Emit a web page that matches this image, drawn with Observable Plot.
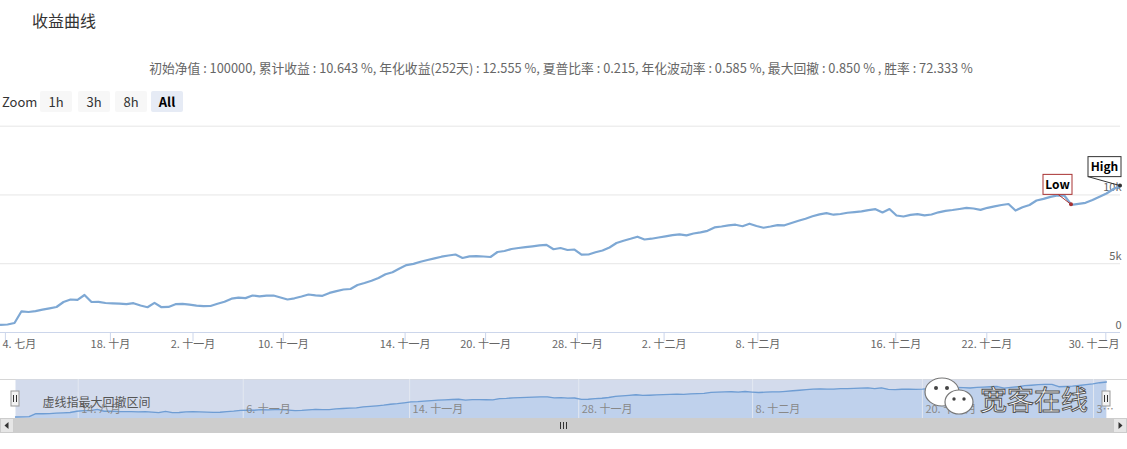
<!DOCTYPE html>
<html><head><meta charset="utf-8">
<script src="https://cdn.jsdelivr.net/npm/d3@7"></script>
<script src="https://cdn.jsdelivr.net/npm/@observablehq/plot@0.6"></script>
<style>
body{margin:0;background:#fff;font-family:"Noto Sans CJK SC","Noto Sans",sans-serif;}
#wrap{position:relative;width:1127px;height:449px;overflow:hidden;background:#fff;}
.abs{position:absolute;}
#title{left:32px;top:9px;font-size:16px;color:#333;line-height:22px;}
#subtitle{left:0;width:1122px;text-align:center;top:59px;font-size:12.8px;color:#666;line-height:18px;white-space:nowrap;}
#zoomlbl{left:2px;top:92px;font-size:13px;color:#333;line-height:20px;}
.btn{position:absolute;top:91px;height:21px;width:32px;background:#f7f7f7;font-size:13px;color:#333;text-align:center;line-height:21px;border-radius:2px;}
.btn.sel{background:#e6ebf5;font-weight:bold;color:#000;}
#mainplot{left:0;top:116px;}
#navbg{left:0;top:379px;width:1127px;height:39px;background:#fff;border-top:1px solid #d6d6d6;box-sizing:border-box;}
#navplot{left:0;top:379px;}
#scroll{left:0;top:418px;width:1127px;height:15px;background:#f2f2f2;}
#thumb{left:14px;top:418px;width:1099px;height:15px;background:#cdcdcd;}
</style></head>
<body>
<div id="wrap">
  <div id="title" class="abs">收益曲线</div>
  <div id="subtitle" class="abs"></div>
  <div id="zoomlbl" class="abs">Zoom</div>
  <div class="btn" style="left:40px">1h</div>
  <div class="btn" style="left:78px">3h</div>
  <div class="btn" style="left:115px">8h</div>
  <div class="btn sel" style="left:151px">All</div>
  <div id="mainplot" class="abs"></div>
  <div id="navbg" class="abs"></div>
  <div id="navplot" class="abs"></div>
  <div id="scroll" class="abs"></div>
  <div id="thumb" class="abs"></div>
  <svg class="abs" style="left:0;top:418px" width="1127" height="15">
    <rect x="0.5" y="0.5" width="13" height="14" fill="#e6e6e6" stroke="#cccccc"/>
    <path d="M8.5,4 L4.5,7.5 L8.5,11 Z" fill="#333"/>
    <rect x="1113.5" y="0.5" width="13" height="14" fill="#e6e6e6" stroke="#cccccc"/>
    <path d="M1118.5,4 L1122.5,7.5 L1118.5,11 Z" fill="#333"/>
    <path d="M560.5,4 V11 M563.5,4 V11 M566.5,4 V11" stroke="#333" stroke-width="1"/>
  </svg>
  <svg class="abs" style="left:918px;top:376px;overflow:visible" width="200" height="44">
    <ellipse cx="24" cy="16" rx="17" ry="14" fill="#fff" stroke="#777" stroke-width="1.2"/>
    <circle cx="18" cy="12" r="2" fill="#444"/><circle cx="29" cy="12" r="2" fill="#444"/>
    <ellipse cx="41" cy="26" rx="14" ry="12" fill="#fff" stroke="#777" stroke-width="1.2"/>
    <circle cx="36" cy="23" r="1.7" fill="#444"/><circle cx="46" cy="23" r="1.7" fill="#444"/>
    <text x="62" y="34" font-size="27" fill="#fff" stroke="#555" stroke-width="1" font-family="Noto Sans CJK SC">宽客在线</text>
  </svg>
</div>
<script>
// ---- data ----
const statsText = "初始净值 : 100000, 累计收益 : 10.643 %, 年化收益(252天) : 12.555 %, 夏普比率 : 0.215, 年化波动率 : 0.585 %, 最大回撤 : 0.850 % , 胜率 : 72.333 %";
const values = [560,582,691,1541,1490,1549,1658,1752,1854,2217,
2399,2377,2726,2217,2232,2145,2116,2094,2057,2130,
1963,1839,2159,1839,1861,2057,2086,2021,1948,1912,
1927,2086,2232,2457,2530,2501,2690,2624,2683,2690,
2545,2399,2486,2617,2763,2704,2668,2879,3010,3126,
3162,3453,3599,3759,3962,4231,4384,4653,4900,4987,
5140,5271,5394,5511,5598,5671,5416,5540,5554,5525,
5489,5852,5925,6070,6143,6209,6267,6332,6376,6056,
6143,5998,6034,5656,5671,5831,5961,6180,6507,6674,
6812,6965,6761,6819,6907,6994,7074,7139,7066,7197,
7277,7394,7641,7706,7793,7837,7728,7910,7743,7619,
7706,7808,7793,7961,8121,8273,8448,8593,8680,8564,
8615,8709,8753,8804,8898,8964,8724,8978,8506,8433,
8550,8608,8520,8579,8739,8848,8906,8978,9058,9015,
8913,9066,9175,9269,9342,8869,9102,9269,9596,9713,
9865,9974,9945,9280,9349,9429,9633,9865,10105,10432,
10643];
const xTickIdx = [0.7, 15.7, 27.5, 40.4, 57.8, 69.3, 82.4, 94.8, 108.2, 127.9, 140.9, 157.9];
const xTickLabels = ["4. 七月","18. 十月","2. 十一月","10. 十一月","14. 十一月","20. 十一月","28. 十一月","2. 十二月","8. 十二月","16. 十二月","22. 十二月","30. 十二月"];
const yGrid = [0, 5000, 10000, 15000];
const yTicks = [0, 5000, 10000];
const yLabels = ["0", "5k", "10k"];
const navTickIdx = [9.2, 33.4, 57.8, 82.6, 108.1, 133, 158.1];
const navTickLabels = ["14. 八月","6. 十一月","14. 十一月","28. 十一月","8. 十二月","20. 十二月","3…"];
const lowIdx = 153;
const noteText = "虚线指最大回撤区间";

const FONT = '"Noto Sans CJK SC","Noto Sans",sans-serif';
const LINE = "#7ea8d4";
document.getElementById("subtitle").textContent = statsText;

const N = values.length;
const data = values.map((v, i) => ({i, v}));
const midTicks = xTickIdx.slice(1, -1).map((i, k) => ({i, label: xTickLabels[k + 1]}));

const main = Plot.plot({
  width: 1127, height: 244,
  marginTop: 9.7, marginBottom: 28, marginLeft: 0, marginRight: 7,
  x: {domain: [0, N - 1], axis: null, label: null},
  y: {domain: [0, 15000], axis: null, label: null},
  style: {background: "transparent", overflow: "visible", fontFamily: FONT},
  marks: [
    Plot.gridY(yGrid, {stroke: "#e6e6e6", strokeOpacity: 1}),
    Plot.ruleY([0], {stroke: "#ccd6eb"}),
    Plot.axisX({ticks: xTickIdx, tickSize: 9, tickFormat: () => "", label: null, stroke: "#ccd6eb", strokeOpacity: 1}),
    Plot.text([xTickLabels[0]], {text: d => d, frameAnchor: "bottom-left", textAnchor: "start", dx: 2, dy: 15, fill: "#666", fontSize: 11}),
    Plot.text(midTicks, {x: "i", text: "label", frameAnchor: "bottom", dy: 15, fill: "#666", fontSize: 11}),
    Plot.text([xTickLabels[xTickLabels.length - 1]], {text: d => d, frameAnchor: "bottom-right", textAnchor: "end", dx: -1, dy: 15, fill: "#666", fontSize: 11}),
    Plot.text(yTicks, {y: d => d, text: (d, i) => yLabels[i], frameAnchor: "right", textAnchor: "end", dx: 1, dy: -7, fill: "#666", fontSize: 11}),
    Plot.line(data, {x: "i", y: "v", stroke: LINE, strokeWidth: 2.2})
  ]
});
document.getElementById("mainplot").appendChild(main);

// flags (Low / High) positioned through the chart's own scales
const sx = main.scale("x"), sy = main.scale("y");
const svg = d3.select(main);
const highIdx = d3.maxIndex(values);
function flag(idx, label, color, boxDx, boxDy, boxW, connX) {
  const px = sx.apply(idx), py = sy.apply(values[idx]);
  const g = svg.append("g").attr("font-family", FONT);
  g.append("line").attr("x1", px + connX).attr("y1", py + boxDy + 20).attr("x2", px).attr("y2", py)
    .attr("stroke", color).attr("stroke-width", 1);
  g.append("rect").attr("x", px + boxDx).attr("y", py + boxDy).attr("width", boxW).attr("height", 20)
    .attr("fill", "#fff").attr("stroke", color).attr("stroke-width", 1);
  g.append("text").attr("x", px + boxDx + boxW / 2).attr("y", py + boxDy + 14.5).attr("text-anchor", "middle")
    .attr("font-size", 12).attr("font-weight", "bold").attr("fill", "#000").text(label);
  g.append("circle").attr("cx", px).attr("cy", py).attr("r", 2).attr("fill", color);
}
flag(lowIdx, "Low", "#a83232", -28, -30, 29, -13);
flag(highIdx, "High", "#333", -32, -29, 33, -32);

// navigator
const navTicks = navTickIdx.map((i, k) => ({i, label: navTickLabels[k]}));
const nav = Plot.plot({
  width: 1127, height: 39,
  marginTop: 0, marginBottom: 0, marginLeft: 15, marginRight: 21,
  x: {domain: [0, N - 1], axis: null},
  y: {domain: d3.extent(values), insetTop: 2.5, insetBottom: 1.5, axis: null},
  style: {background: "transparent", overflow: "visible", fontFamily: FONT},
  marks: [
    Plot.frame({fill: "#d3dbec", stroke: null}),
    Plot.areaY(data, {x: "i", y: "v", fill: "#bfd1ec", clip: true}),
    Plot.ruleX(navTickIdx, {stroke: "#e3e8f1", strokeWidth: 1}),
    Plot.line(data, {x: "i", y: "v", stroke: "#6f9dd3", strokeWidth: 1.3}),
    Plot.text(navTicks, {x: "i", text: "label", frameAnchor: "bottom", dy: -6, dx: 3, textAnchor: "start", fill: "#888", fontSize: 11}),
    Plot.text([noteText], {text: d => d, frameAnchor: "top-left", dx: 27, dy: 19, textAnchor: "start", fill: "#555", fontSize: 12})
  ]
});
document.getElementById("navplot").appendChild(nav);
const nx = nav.scale("x");
const nsvg = d3.select(nav);
[0, N - 1].forEach(idx => {
  const hx = nx.apply(idx);
  const g = nsvg.append("g");
  g.append("rect").attr("x", hx - 4).attr("y", 12).attr("width", 8).attr("height", 15)
    .attr("fill", "#f2f2f2").attr("stroke", "#999").attr("stroke-width", 1);
  g.append("path").attr("d", `M${hx - 1.5},16 V23 M${hx + 1.5},16 V23`).attr("stroke", "#333").attr("stroke-width", 1);
});
</script>
</body></html>
